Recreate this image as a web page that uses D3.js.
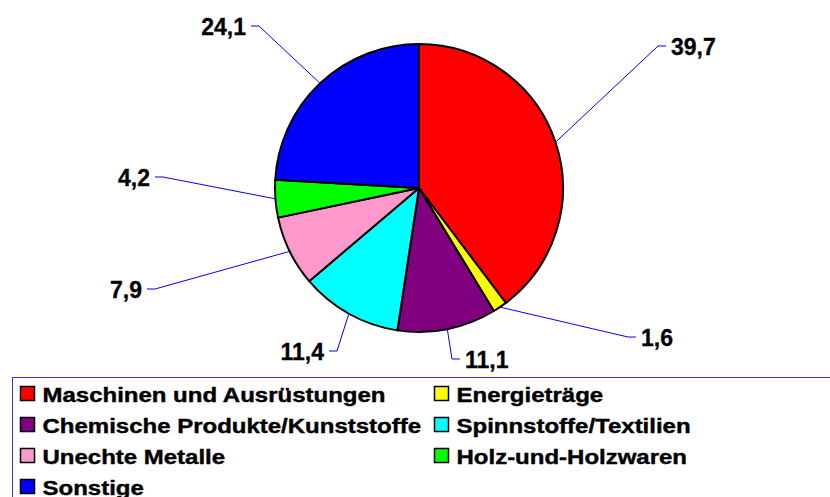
<!DOCTYPE html>
<html>
<head>
<meta charset="utf-8">
<script src="https://cdn.jsdelivr.net/npm/d3@7"></script>
<style>
  body { margin: 0; background: #fff; }
  text { font-family: "Liberation Sans", Arial, Helvetica, sans-serif; font-weight: bold; fill: #000; }
</style>
</head>
<body>
<div id="block"></div>
<script>
// data
var categories = ["Maschinen und Ausrüstungen", "Energieträge", "Chemische Produkte/Kunststoffe",
                  "Spinnstoffe/Textilien", "Unechte Metalle", "Holz-und-Holzwaren", "Sonstige"];
var values = [39.7, 1.6, 11.1, 11.4, 7.9, 4.2, 24.1];
var colors = ["#ff0000", "#ffff00", "#800080", "#00ffff", "#ff99cc", "#00ff00", "#0000ff"];

// label elbows (where the leader bends), and which side the text sits
var labelBend = [[658, 46], [628, 337], [452, 359], [337, 351], [155, 289], [163, 177], [259, 26]];
var labelSide = [1, 1, 1, -1, -1, -1, -1];

// dimensions
var svg_dx = 830, svg_dy = 497,
    cx = 419, cy = 188, r = 144;

var locale = d3.formatLocale({decimal: ",", thousands: ".", grouping: [3], currency: ["", "€"]});
var fmt = locale.format(".1f");

var svg = d3.select("#block")
            .append("svg")
            .attr("width", svg_dx)
            .attr("height", svg_dy);

var pie = d3.pie().sort(null).value(function(d) { return d; });
var arcs = pie(values);
var arc = d3.arc().innerRadius(0).outerRadius(r);
var edge = d3.arc().innerRadius(r).outerRadius(r);

var g = svg.append("g").attr("transform", "translate(" + cx + "," + cy + ")");

g.selectAll("path.slice")
 .data(arcs)
 .enter()
 .append("path")
 .attr("class", "slice")
 .attr("d", arc)
 .attr("fill", function(d, i) { return colors[i]; })
 .attr("stroke", "#000")
 .attr("stroke-width", 2)
 .attr("stroke-linejoin", "round");

// leader lines
svg.selectAll("polyline.leader")
   .data(arcs)
   .enter()
   .append("polyline")
   .attr("class", "leader")
   .attr("fill", "none")
   .attr("stroke", "#0000ff")
   .attr("stroke-width", 1)
   .attr("points", function(d, i) {
       var c = edge.centroid(d),
           b = labelBend[i];
       return [[cx + c[0], cy + c[1]], b, [b[0] + 8 * labelSide[i], b[1]]].join(" ");
   });

// value labels
svg.selectAll("text.val")
   .data(arcs)
   .enter()
   .append("text")
   .attr("class", "val")
   .attr("x", function(d, i) { return labelBend[i][0] + 13 * labelSide[i]; })
   .attr("y", function(d, i) { return labelBend[i][1] + 9; })
   .attr("text-anchor", function(d, i) { return labelSide[i] > 0 ? "start" : "end"; })
   .style("font-size", "23px")
   .style("stroke", "#000")
   .style("stroke-width", 0.3)
   .text(function(d) { return fmt(d.value); });

// legend
var legend = svg.append("g").attr("transform", "translate(12.5, 377.5)");
legend.append("rect")
      .attr("width", 900)
      .attr("height", 200)
      .attr("fill", "none")
      .attr("stroke", "#3333ff")
      .attr("stroke-width", 1);

var item = legend.selectAll("g.item")
                 .data(categories)
                 .enter()
                 .append("g")
                 .attr("class", "item")
                 .attr("transform", function(d, i) {
                     return "translate(" + (8 + (i % 2) * 414) + "," + (9 + Math.floor(i / 2) * 31) + ")";
                 });

item.append("rect")
    .attr("width", 14)
    .attr("height", 14)
    .attr("fill", function(d, i) { return colors[i]; })
    .attr("stroke", "#000")
    .attr("stroke-width", 1.5);

item.append("text")
    .attr("transform", "translate(22, 15) scale(1.2, 1)")
    .style("font-size", "20px")
    .style("stroke", "#000")
    .style("stroke-width", 0.4)
    .text(function(d) { return d; });
</script>
</body>
</html>
